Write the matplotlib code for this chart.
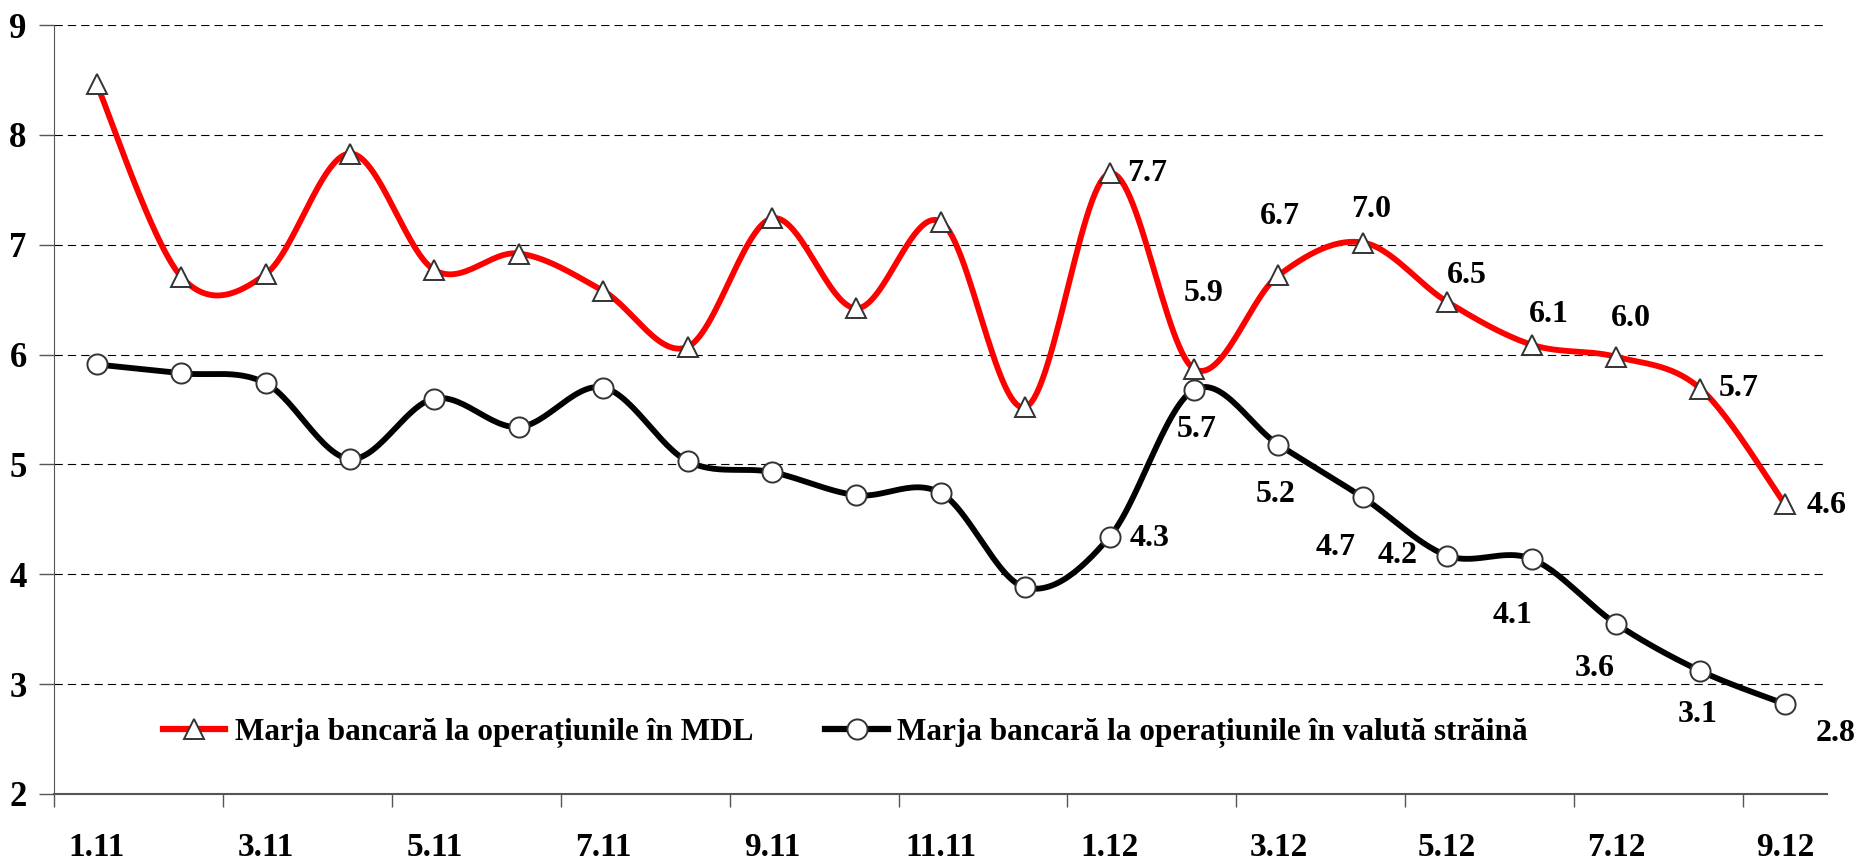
import numpy as np
import matplotlib
matplotlib.use('Agg')
import matplotlib.pyplot as plt

# データ
months = ['1.11', '2.11', '3.11', '4.11', '5.11', '6.11', '7.11', '8.11', '9.11', '10.11', '11.11', '12.11',
          '1.12', '2.12', '3.12', '4.12', '5.12', '6.12', '7.12', '8.12', '9.12']
marja_mdl = [8.46, 6.71, 6.73, 7.83, 6.77, 6.92, 6.58, 6.07, 7.24, 6.42, 7.21, 5.52,
             7.65, 5.87, 6.72, 7.02, 6.48, 6.09, 5.98, 5.69, 4.64]
marja_valuta = [5.91, 5.83, 5.74, 5.05, 5.60, 5.34, 5.70, 5.03, 4.93, 4.72, 4.74, 3.88,
                4.34, 5.68, 5.18, 4.70, 4.17, 4.14, 3.55, 3.12, 2.82]
label_mdl = ['7.7', '5.9', '6.7', '7.0', '6.5', '6.1', '6.0', '5.7', '4.6']
label_valuta = ['4.3', '5.7', '5.2', '4.7', '4.2', '4.1', '3.6', '3.1', '2.8']
nume_mdl = 'Marja bancară la operațiunile în MDL'
nume_valuta = 'Marja bancară la operațiunile în valută străină'

# ラベルの位置 (ピクセル, 1.12 から, 中心)
off_mdl = [(38, 0), (10, 75), (2, 59), (8, 33), (20, 26), (17, 30), (15, 38), (38, 0), (42, -2)]
off_valuta = [(40, -2), (3, -40), (-3, -50), (-27, -50), (-50, 0), (-19, -57), (-21, -45), (-3, -44), (51, -30)]


def smooth(y, n=30):
    # Excel風のスムージング (Bezier)
    y = np.asarray(y, dtype=float)
    x = np.arange(len(y), dtype=float)
    xs, ys = [], []
    for i in range(len(y) - 1):
        p0x, p0y = x[i], y[i]
        p3x, p3y = x[i + 1], y[i + 1]
        pmx, pmy = (x[i - 1], y[i - 1]) if i > 0 else (p0x, p0y)
        pnx, pny = (x[i + 2], y[i + 2]) if i + 2 < len(y) else (p3x, p3y)
        c1x, c1y = p0x + (p3x - pmx) / 6, p0y + (p3y - pmy) / 6
        c2x, c2y = p3x - (pnx - p0x) / 6, p3y - (pny - p0y) / 6
        t = np.linspace(0, 1, n)
        a, b, c, d = (1 - t) ** 3, 3 * (1 - t) ** 2 * t, 3 * (1 - t) * t ** 2, t ** 3
        xs.append(a * p0x + b * c1x + c * c2x + d * p3x)
        ys.append(a * p0y + b * c1y + c * c2y + d * p3y)
    return np.concatenate(xs), np.concatenate(ys)


plt.rcParams['font.family'] = ['Liberation Serif', 'DejaVu Serif']
plt.rcParams['font.weight'] = 'bold'

fig = plt.figure(figsize=(18.58, 8.61), dpi=100)
ax = fig.add_axes([54.5 / 1858, 1 - 794 / 861, (1827 - 54.5) / 1858, (794 - 25) / 861])

x = np.arange(len(months))

# 線
sx, sy = smooth(marja_mdl)
ax.plot(sx, sy, color='#ff0000', lw=4.2, zorder=3, solid_capstyle='round')
ax.plot(x, marja_mdl, ls='none', marker='^', ms=14, mfc='white', mec='#333333', mew=1.4, zorder=4)
sx, sy = smooth(marja_valuta)
ax.plot(sx, sy, color='black', lw=4.2, zorder=3, solid_capstyle='round')
ax.plot(x, marja_valuta, ls='none', marker='o', ms=14.5, mfc='white', mec='#333333', mew=1.4, zorder=4)

# 凡例用
h1, = ax.plot([], [], color='#ff0000', lw=4.5, marker='^', ms=14, mfc='white', mec='#333333', mew=1.4)
h2, = ax.plot([], [], color='black', lw=4.5, marker='o', ms=14.5, mfc='white', mec='#333333', mew=1.4)

# データラベル
for k, (lab, (dx, dy)) in enumerate(zip(label_mdl, off_mdl)):
    ax.annotate(lab, (12 + k, marja_mdl[12 + k]), xytext=(dx, dy), textcoords='offset pixels',
                ha='center', va='center', fontsize=23, fontweight='bold')
for k, (lab, (dx, dy)) in enumerate(zip(label_valuta, off_valuta)):
    ax.annotate(lab, (12 + k, marja_valuta[12 + k]), xytext=(dx, dy), textcoords='offset pixels',
                ha='center', va='center', fontsize=23, fontweight='bold')

# 軸
ax.set_xlim(-0.5, len(months) - 0.5)
ax.set_ylim(2, 9)
ax.set_yticks(range(2, 10))
ax.set_yticklabels([str(v) for v in range(2, 10)], fontsize=25, fontweight='bold')
ax.set_xticks(x[::2])
ax.set_xticklabels(months[::2], fontsize=24, fontweight='bold')
ax.tick_params(axis='x', length=0, pad=27)
ax.set_xticks(np.arange(-0.5, len(months) - 0.5, 2), minor=True)
ax.tick_params(axis='x', which='minor', length=9, width=1, color='#555555')
ax.tick_params(axis='y', length=11, width=1, color='#555555', pad=9)

for v in range(3, 10):
    ax.axhline(v, color='black', lw=0.8, ls=(0, (7.5, 4.5)), zorder=1)
ax.spines['top'].set_visible(False)
ax.spines['right'].set_visible(False)
ax.spines['left'].set_color('#555555')
ax.spines['bottom'].set_color('#555555')
ax.spines['bottom'].set_linewidth(1.5)

fig.legend([h1, h2], [nume_mdl, nume_valuta], loc='center left', bbox_to_anchor=(163 / 1858, 1 - 733 / 861),
           ncol=2, frameon=False, borderpad=0, borderaxespad=0, handlelength=2.0, handletextpad=0.3,
           columnspacing=2.3, prop={'size': 22.5, 'weight': 'bold'})

fig.savefig('out.png', dpi=100)
